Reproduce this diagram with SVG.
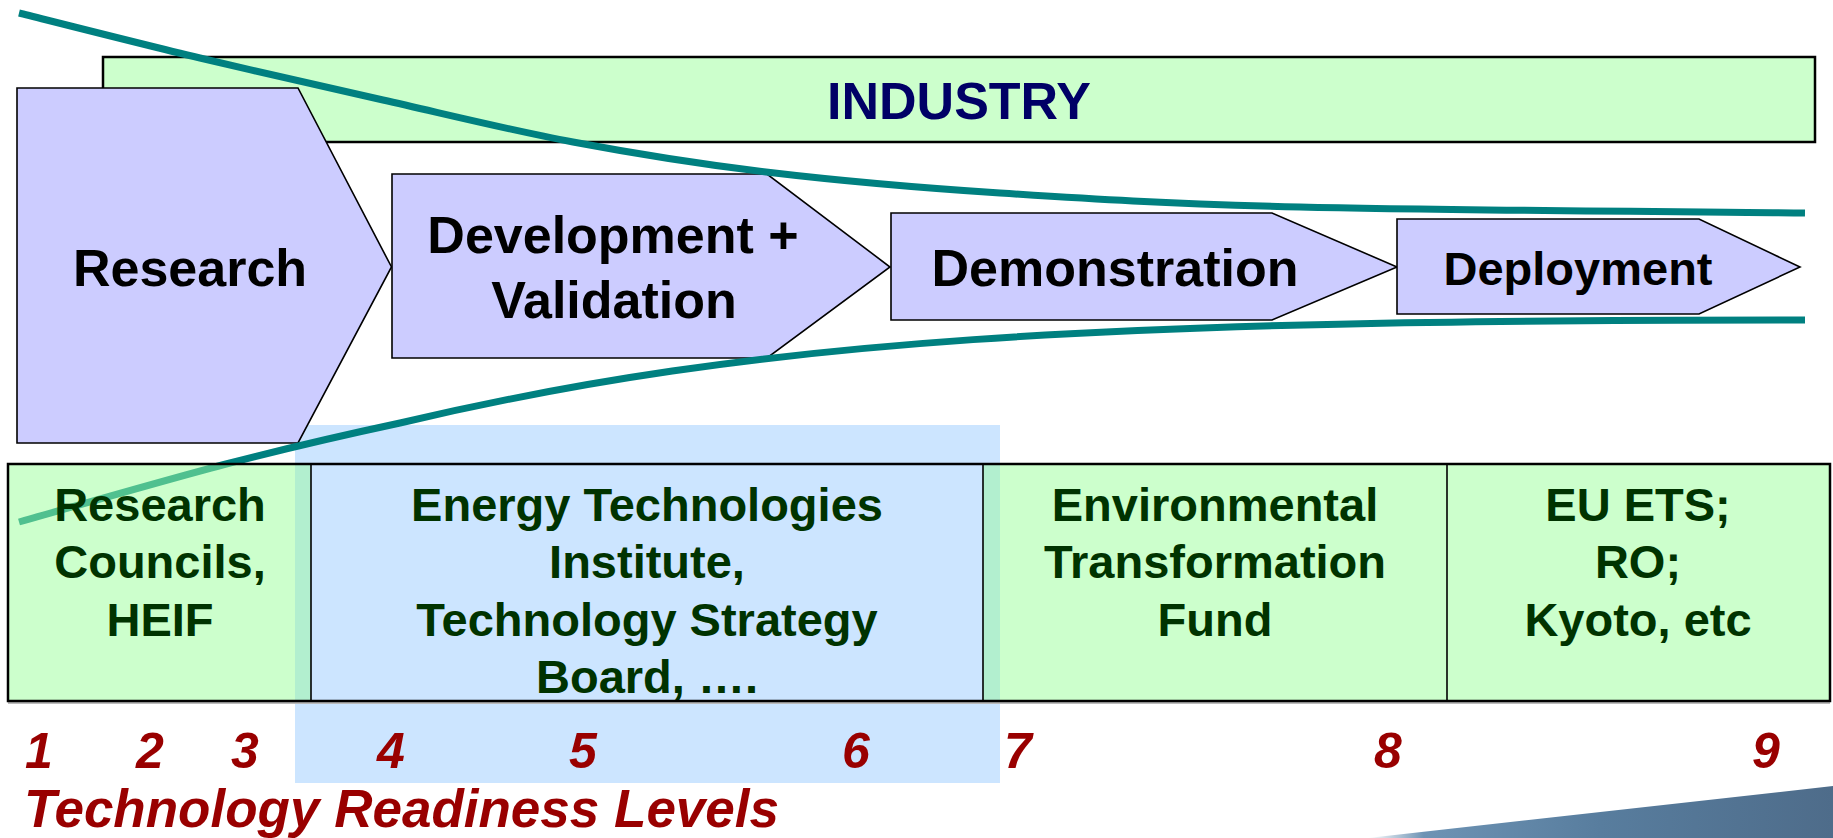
<svg xmlns="http://www.w3.org/2000/svg" width="1833" height="838" viewBox="0 0 1833 838">
<style>
.stage{fill:#ccccff;stroke:#000;stroke-width:1.6;stroke-linejoin:miter}
.lbl{font-family:"Liberation Sans",Arial,sans-serif;font-weight:bold;text-anchor:middle}
.big{font-size:52px;fill:#000}
.cell{fill:#ccffcc}
.ctext{font-size:47px;fill:#003300}
.num{font-family:"Liberation Sans",Arial,sans-serif;font-weight:bold;font-style:italic;font-size:50px;fill:#990000;text-anchor:middle}
.curve{fill:none;stroke:#008080;stroke-width:7;stroke-linecap:butt}
.mix{fill:#b2efcf}
</style>
<defs>
<linearGradient id="sw" x1="0" y1="0" x2="1" y2="0">
<stop offset="0" stop-color="#ffffff"/>
<stop offset="0.12" stop-color="#6d93b4"/>
<stop offset="0.5" stop-color="#587d9e"/>
<stop offset="1" stop-color="#4e6c8a"/>
</linearGradient>
<clipPath id="cellclip"><rect x="8" y="464" width="303" height="237"/></clipPath>
</defs>
<rect width="1833" height="838" fill="#ffffff"/>

<!-- blue funding band -->
<rect id="eti-band" x="295" y="425" width="705" height="358" fill="#cce5ff"/>

<!-- INDUSTRY -->
<g id="industry">
<rect x="103" y="57" width="1712" height="85" fill="#ccffcc" stroke="#000" stroke-width="2.5"/>
<text class="lbl" x="959" y="119" font-size="52" fill="#000066">INDUSTRY</text>
</g>

<!-- stages -->
<g id="research">
<polygon class="stage" points="17,88 298,88 391.5,267 298,443 17,443"/>
<text class="lbl big" x="190" y="286">Research</text>
</g>
<g id="development">
<polygon class="stage" points="392,174 767,174 890,267 767,358 392,358"/>
<text class="lbl big" x="613" y="253">Development +</text>
<text class="lbl big" x="614" y="318">Validation</text>
</g>
<g id="demonstration">
<polygon class="stage" points="891,213 1272,213 1397,267 1272,320 891,320"/>
<text class="lbl big" x="1115" y="286">Demonstration</text>
</g>
<g id="deployment">
<polygon class="stage" points="1397,219 1699,219 1800,267 1699,314 1397,314"/>
<text class="lbl" x="1578" y="285" font-size="47" fill="#000">Deployment</text>
</g>

<!-- connectors / funnel curves -->
<g id="connectors">
<path id="upper" class="curve" d="M19,13 C49,20.5 139.3,43.5 200,58 C260.7,72.5 320.8,86 383,100 C445.2,114 509.2,130 573,142 C636.8,154 694.8,163.5 766,172 C837.2,180.5 911,187.2 1000,193 C1089,198.8 1165.8,203.7 1300,207 C1434.2,210.3 1720.8,212 1805,213"/>
<path id="lower" class="curve" d="M19,522 C54.2,512.2 166.5,479.5 230,463 C293.5,446.5 326.2,438.8 400,423 C760,338 1100,320 1805,320"/>
</g>

<!-- funding table -->
<g id="cell-research-councils">
<rect class="cell" x="8" y="464" width="303" height="237"/>
<path d="M19,522 C54.2,512.2 166.5,479.5 230,463 C293.5,446.5 326.2,438.8 400,423" fill="none" stroke="#50c08f" stroke-width="7" clip-path="url(#cellclip)"/>
<rect class="mix" x="295" y="464" width="16" height="237"/>
<text class="lbl ctext" x="160" y="521">Research</text>
<text class="lbl ctext" x="160" y="578">Councils,</text>
<text class="lbl ctext" x="160" y="636">HEIF</text>
</g>
<g id="cell-eti">
<text class="lbl ctext" x="647" y="521">Energy Technologies</text>
<text class="lbl ctext" x="647" y="578">Institute,</text>
<text class="lbl ctext" x="647" y="636">Technology Strategy</text>
<text class="lbl ctext" x="647" y="693">Board, ….</text>
</g>
<g id="cell-etf">
<rect class="cell" x="983" y="464" width="464" height="237"/>
<rect class="mix" x="983" y="464" width="17" height="237"/>
<text class="lbl ctext" x="1215" y="521">Environmental</text>
<text class="lbl ctext" x="1215" y="578">Transformation</text>
<text class="lbl ctext" x="1215" y="636">Fund</text>
</g>
<g id="cell-eu">
<rect class="cell" x="1447" y="464" width="383" height="237"/>
<text class="lbl ctext" x="1638" y="521">EU ETS;</text>
<text class="lbl ctext" x="1638" y="578">RO;</text>
<text class="lbl ctext" x="1638" y="636">Kyoto, etc</text>
</g>
<g id="table-lines" fill="none" stroke="#000">
<line x1="8" y1="703" x2="1830" y2="703" stroke="#bbbbbb" stroke-width="2"/>
<rect x="8" y="464" width="1822" height="237" stroke-width="2.5"/>
<line x1="311" y1="464" x2="311" y2="701" stroke-width="1.6"/>
<line x1="983" y1="464" x2="983" y2="701" stroke-width="1.6"/>
<line x1="1447" y1="464" x2="1447" y2="701" stroke-width="1.6"/>
</g>

<!-- TRL scale -->
<g id="trl">
<text class="num" x="39" y="768">1</text>
<text class="num" x="150" y="768">2</text>
<text class="num" x="245" y="768">3</text>
<text class="num" x="391" y="768">4</text>
<text class="num" x="583" y="768">5</text>
<text class="num" x="856" y="768">6</text>
<text class="num" x="1018" y="768">7</text>
<text class="num" x="1388" y="768">8</text>
<text class="num" x="1766" y="768">9</text>
<text x="24" y="827" font-family="'Liberation Sans',Arial,sans-serif" font-weight="bold" font-style="italic" font-size="53" fill="#990000">Technology Readiness Levels</text>
</g>

<!-- corner swoosh -->
<polygon id="swoosh" points="1368,838 1833,786 1833,838" fill="url(#sw)"/>
</svg>
